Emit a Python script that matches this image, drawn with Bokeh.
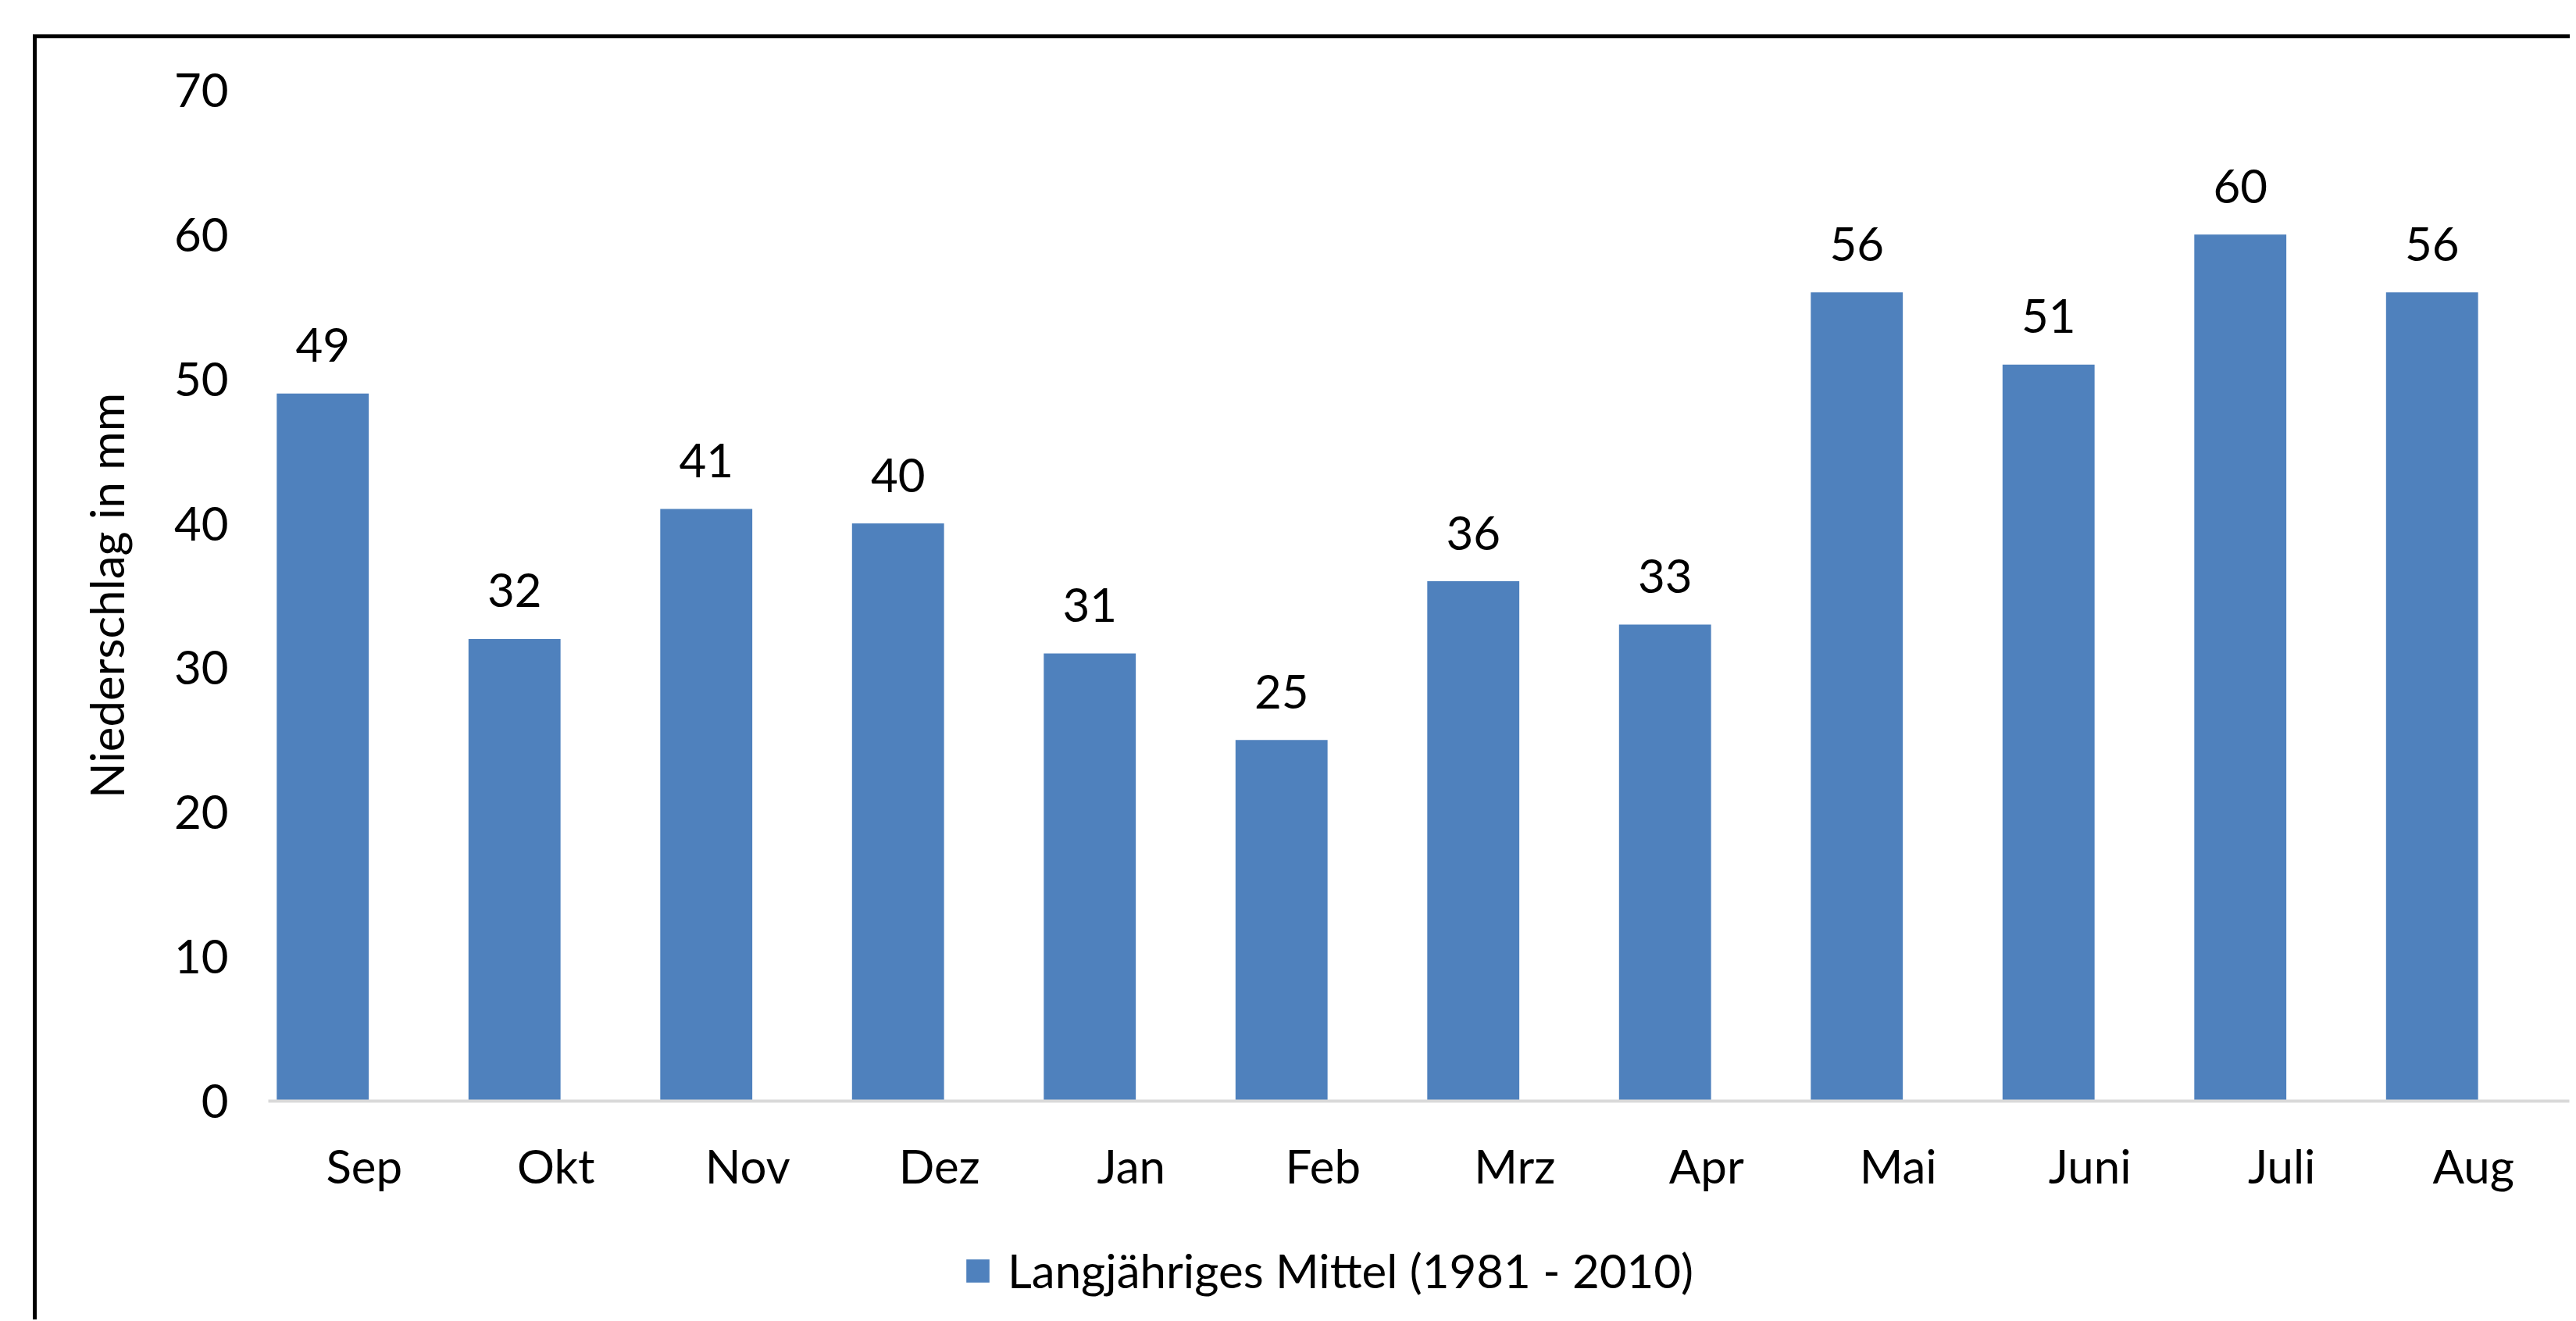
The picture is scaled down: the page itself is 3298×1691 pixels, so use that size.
from bokeh.plotting import figure
from bokeh.layouts import column
from bokeh.models import ColumnDataSource, FactorRange, Range1d, FixedTicker, Legend, LegendItem
from bokeh.transform import dodge
from bokeh.core.properties import value
from bokeh.embed import file_html
from bokeh.resources import INLINE

# ---- data ----
months = ["Sep", "Okt", "Nov", "Dez", "Jan", "Feb", "Mrz", "Apr", "Mai", "Juni", "Juli", "Aug"]
niederschlag = [49, 32, 41, 40, 31, 25, 36, 33, 56, 51, 60, 56]
y_ticks = [0, 10, 20, 30, 40, 50, 60, 70]
series_name = "Langjähriges Mittel (1981 - 2010)"
y_title = "Niederschlag in mm"

BAR_COLOR = "#4F81BD"
FONT = "Lato"
FS = "60px"
W = 3243

src = ColumnDataSource(dict(month=months, value=niederschlag,
                            label=[str(v) for v in niederschlag]))

p = figure(x_range=FactorRange(factors=months, range_padding=0),
           y_range=Range1d(0, 70),
           width=W, height=1500,
           output_backend="svg", toolbar_location=None,
           min_border_left=296, min_border_right=1,
           min_border_top=66, min_border_bottom=140)

xpos = dodge("month", -0.216, range=p.x_range)
bars = p.vbar(x=xpos, top="value", width=0.48, source=src,
              fill_color=BAR_COLOR, line_color=None)
p.text(x=xpos, y="value", text="label", source=src,
       text_align="center", text_baseline="alphabetic", y_offset=-62,
       text_font=value(FONT), text_font_size=FS, text_color="black")

p.xgrid.visible = False
p.ygrid.visible = False
p.outline_line_color = None
p.background_fill_color = "white"
p.border_fill_color = "white"

# y axis
ya = p.yaxis[0]
ya.ticker = FixedTicker(ticks=y_ticks)
ya.axis_line_color = None
ya.major_tick_line_color = None
ya.minor_tick_line_color = None
ya.major_tick_out = 0
ya.major_label_standoff = 51
ya.major_label_text_font = FONT
ya.major_label_text_font_size = FS
ya.major_label_text_color = "black"
ya.axis_label = y_title
ya.axis_label_text_font = FONT
ya.axis_label_text_font_size = FS
ya.axis_label_text_font_style = "normal"
ya.axis_label_text_color = "black"
ya.axis_label_standoff = 48

# x axis
xa = p.xaxis[0]
xa.axis_line_color = "#D9D9D9"
xa.axis_line_width = 4
xa.major_tick_line_color = None
xa.major_tick_out = 0
xa.major_label_standoff = 46
xa.major_label_text_font = FONT
xa.major_label_text_font_size = FS
xa.major_label_text_color = "black"

# ---- legend strip (below the chart, inside the same border box) ----
pl = figure(width=W, height=140,
            x_range=FactorRange(factors=months, range_padding=0),
            y_range=Range1d(0, 70),
            output_backend="svg", toolbar_location=None,
            x_axis_location=None, y_axis_location=None,
            min_border=0, min_border_left=0, min_border_right=0,
            min_border_top=0, min_border_bottom=0)
pl.grid.visible = False
pl.outline_line_color = None
pl.background_fill_color = "white"
pl.border_fill_color = "white"
# same series, hidden: only provides the legend key
key = pl.vbar(x="month", top="value", width=0.48, source=src,
              fill_color=BAR_COLOR, line_color=None, visible=False)

legend = Legend(items=[LegendItem(label=series_name, renderers=[key])],
                orientation="horizontal", location=(890, 27),
                glyph_width=37, glyph_height=37, label_standoff=20,
                label_text_font=FONT, label_text_font_size=FS,
                label_text_color="black",
                inactive_fill_alpha=0,
                border_line_color=None, background_fill_alpha=0,
                padding=0, margin=0)
pl.add_layout(legend, "center")

layout = column(p, pl, spacing=0,
                styles={"margin-left": "42px", "margin-top": "44px",
                        "border-left": "5px solid black",
                        "border-top": "5px solid black"})

open("out.html", "w").write(file_html(layout, INLINE))
